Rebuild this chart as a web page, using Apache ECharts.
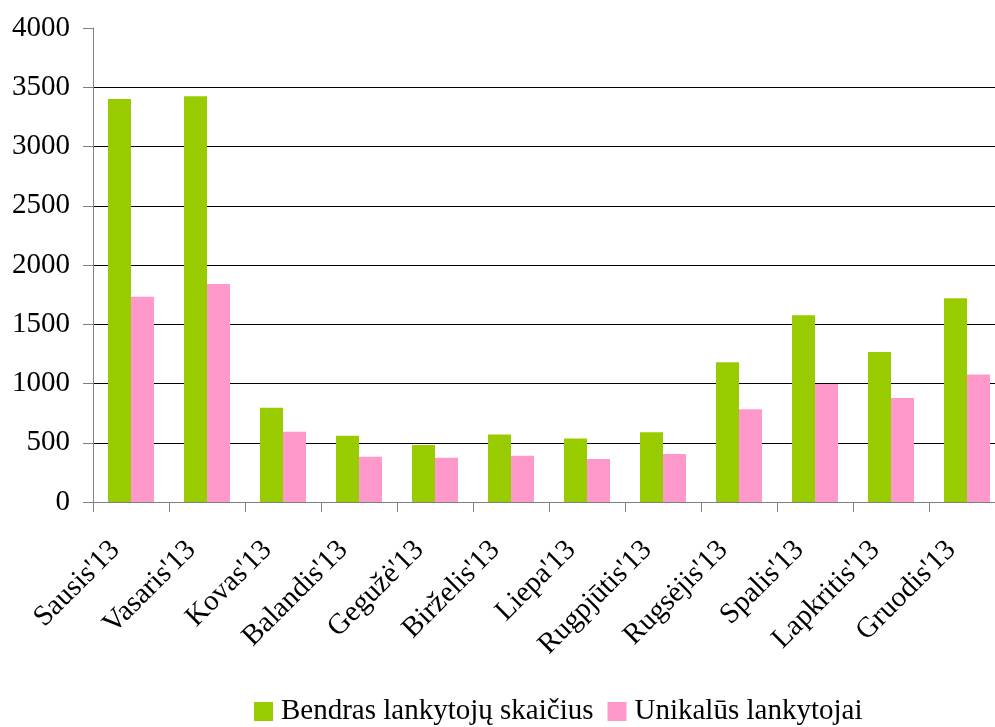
<!DOCTYPE html>
<html>
<head>
<meta charset="utf-8">
<script src="https://cdn.jsdelivr.net/npm/echarts@6/dist/echarts.min.js"></script>
<style>html,body{margin:0;padding:0;background:#fff;overflow:hidden}#c{width:1010px;height:727px}</style>
</head>
<body>
<div id="c"></div>
<script>
var categories = ["Sausis'13","Vasaris'13","Kovas'13","Balandis'13","Gegužė'13","Birželis'13","Liepa'13","Rugpjūtis'13","Rugsėjis'13","Spalis'13","Lapkritis'13","Gruodis'13"];
var totalVisitors = [3400, 3425, 795, 560, 480, 570, 535, 588, 1180, 1575, 1265, 1720];
var uniqueVisitors = [1733, 1840, 592, 382, 373, 390, 363, 405, 783, 995, 878, 1077];
var seriesNames = ["Bendras lankytojų skaičius", "Unikalūs lankytojai"];

var font = "'Liberation Serif', 'DejaVu Serif', serif";
var chart = echarts.init(document.getElementById('c'));
chart.setOption({
  animation: false,
  textStyle: { fontFamily: font, color: '#000' },
  grid: { left: 93, top: 28, width: 912, height: 474, containLabel: false },
  legend: {
    left: 249, top: 692,
    itemWidth: 19, itemHeight: 19, itemGap: 14,
    icon: 'rect',
    textStyle: { fontFamily: font, fontSize: 29, color: '#000', padding: [0, 0, 0, 3] },
    data: seriesNames
  },
  xAxis: {
    type: 'category',
    data: categories,
    axisLine: { lineStyle: { color: '#808080', width: 1 } },
    axisTick: { show: true, length: 10, lineStyle: { color: '#808080' } },
    axisLabel: { rotate: 45, margin: 28, padding: [0, 22, 0, 0], fontFamily: font, fontSize: 29, color: '#000', interval: 0 }
  },
  yAxis: {
    type: 'value',
    min: 0, max: 4000, interval: 500,
    axisLine: { show: true, lineStyle: { color: '#808080', width: 1 } },
    axisTick: { show: true, length: 10, lineStyle: { color: '#808080' } },
    axisLabel: { margin: 23, fontFamily: font, fontSize: 29, color: '#000', formatter: function (v) { return String(v); } },
    splitLine: { show: true, showMaxLine: false, lineStyle: { color: '#000', width: 1 } }
  },
  series: [
    { name: seriesNames[0], type: 'bar', data: totalVisitors, barWidth: 23, barGap: '0%', itemStyle: { color: '#99CC00' } },
    { name: seriesNames[1], type: 'bar', data: uniqueVisitors, barWidth: 23, barGap: '0%', itemStyle: { color: '#FF99CC' } }
  ]
});
</script>
</body>
</html>
